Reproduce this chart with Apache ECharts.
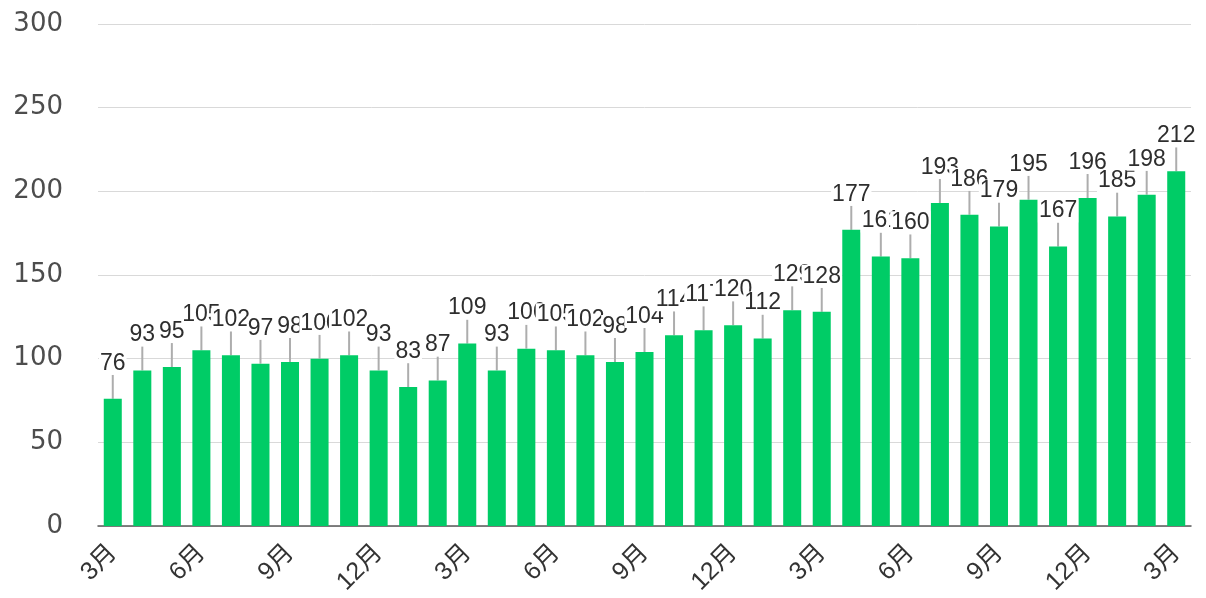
<!DOCTYPE html>
<html>
<head>
<meta charset="utf-8">
<script src="https://cdn.jsdelivr.net/npm/echarts@6/dist/echarts.min.js"></script>
<style>
  html, body { margin: 0; padding: 0; background: #fff; }
  #chart { width: 1206px; height: 598px; }
</style>
</head>
<body>
<div id="chart"></div>
<script>
// 月次の件数 (3月〜3年後の3月)
var months = [
  '3月', '4月', '5月', '6月', '7月', '8月', '9月', '10月', '11月', '12月', '1月', '2月',
  '3月', '4月', '5月', '6月', '7月', '8月', '9月', '10月', '11月', '12月', '1月', '2月',
  '3月', '4月', '5月', '6月', '7月', '8月', '9月', '10月', '11月', '12月', '1月', '2月',
  '3月'
];
var counts = [
  76, 93, 95, 105, 102, 97, 98, 100, 102, 93, 83, 87,
  109, 93, 106, 105, 102, 98, 104, 114, 117, 120, 112, 129,
  128, 177, 161, 160, 193, 186, 179, 195, 167, 196, 185, 198,
  212
];
var yTicks = { min: 0, max: 300, interval: 50 };

var chart = echarts.init(document.getElementById('chart'));
chart.setOption({
  animation: false,
  grid: { left: 98, right: 15, top: 24, bottom: 72, outerBoundsMode: 'none' },
  xAxis: {
    type: 'category',
    data: months,
    axisTick: { show: false },
    axisLine: { lineStyle: { color: '#595959', width: 1.5 } },
    axisLabel: {
      interval: 2, rotate: 45, fontSize: 25, color: '#333333', margin: 23,
      fontFamily: 'Liberation Sans, Noto Sans CJK JP, sans-serif'
    }
  },
  yAxis: {
    type: 'value',
    min: yTicks.min, max: yTicks.max, interval: yTicks.interval,
    axisLine: { show: false },
    axisTick: { show: false },
    splitLine: { lineStyle: { color: '#d9d9d9', width: 1 } },
    axisLabel: {
      fontSize: 26, color: '#4d4d4d', margin: 35,
      fontFamily: 'DejaVu Sans, sans-serif'
    }
  },
  series: [{
    type: 'bar',
    data: counts,
    barWidth: '61%',
    itemStyle: { color: '#00cc66' },
    label: {
      show: true, position: 'top', distance: 3,
      fontSize: 23, color: '#2e2e2e',
      backgroundColor: '#ffffff', padding: [0, 1],
      fontFamily: 'Liberation Sans, sans-serif'
    },
    labelLayout: { dy: -21 },
    labelLine: { show: true, lineStyle: { color: '#adadad', width: 2 } }
  }]
});
</script>
</body>
</html>
